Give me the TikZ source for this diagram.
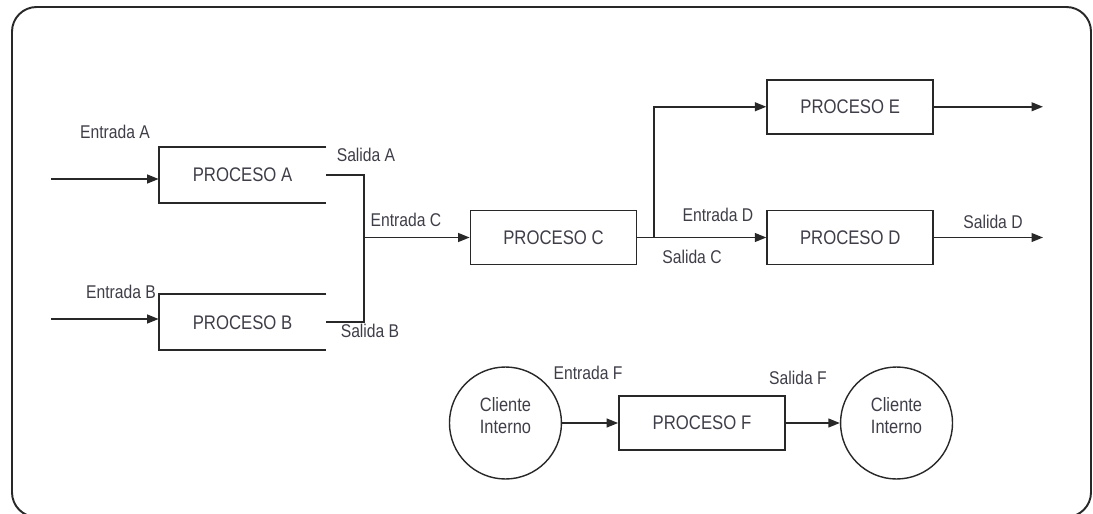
\documentclass[tikz,border=0pt]{standalone}
\usepackage{fontspec}
\setmainfont{Liberation Sans}[FakeStretch=0.85]
\usetikzlibrary{arrows.meta, positioning}
\definecolor{primary}{RGB}{40,40,40}
\definecolor{textgray}{RGB}{62,62,72}

\begin{document}
\begin{tikzpicture}[
  x=0.02cm, y=-0.02cm,
  box/.style={rectangle, draw=primary, line width=1pt, inner sep=0pt,
    minimum width=3.32cm, minimum height=1.08cm, text=textgray,
    font=\fontsize{11.2}{13}\selectfont},
  openbox/.style={box, draw=none},
  client/.style={circle, draw=primary, line width=0.8pt, inner sep=0pt,
    minimum size=2.24cm,
    label={[align=center, text=textgray, yshift=4pt, inner sep=0pt,
      font=\fontsize{11}{12.6}\selectfont]center:#1}},
  lbl/.style={inner sep=0pt, text=textgray, font=\fontsize{10.5}{12}\selectfont},
  arrow/.style={-{Triangle[length=6.5pt,width=5pt]}, line width=0.9pt, primary},
  link/.style={line width=0.9pt, primary}
]
\useasboundingbox (0,0) rectangle (1093,514);
\draw[primary, line width=1.1pt, rounded corners=14pt] (12,7) rectangle (1091,517);

% processes
\node[openbox] (pa) at (242.5,175) {PROCESO A};
\node[openbox, below=1.83cm of pa] (pb) {PROCESO B};
\node[box] (pc) at (553.5,237.5) {PROCESO C};
\node[box, right=2.58cm of pc] (pd) {PROCESO D};
\node[box, above=1.5cm of pd] (pe) {PROCESO E};
\node[box] (pf) at (702,423) {PROCESO F};
\node[client={Cliente\\Interno}, left=1.12cm of pf] (cl1) {};
\node[client={Cliente\\Interno}, right=1.08cm of pf] (cl2) {};

\draw[link, line width=1pt] (pa.north east) -- (pa.north west) -- (pa.south west) -- (pa.south east);
\draw[link, line width=1pt] (pb.north east) -- (pb.north west) -- (pb.south west) -- (pb.south east);

% free ends
\coordinate (ina) at (51,179);
\coordinate (inb) at (51,319);
\coordinate (joint) at (364,237.5);
\coordinate (split) at (654,237.5);
\coordinate (oute) at (1043,0);
\coordinate (outd) at (1043,0);

\draw[arrow] (ina) -- (ina -| pa.west);
\draw[arrow] (inb) -- (inb -| pb.west);
\draw[link] (pa.east) -| (joint);
\draw[link] (pb.east) -| (joint);
\draw[arrow] (joint) -- (pc.west);
\draw[arrow] (pc.east) -- (pd.west);
\draw[arrow] (split) |- (pe.west);
\draw[arrow] (pe.east) -- (pe.east -| oute);
\draw[arrow] (pd.east) -- (pd.east -| outd);
\draw[arrow] (cl1.east) -- (cl1.east -| pf.west);
\draw[arrow] (pf.east) -- (cl2.west);

% labels
\node[lbl] (lea) at (115,132) {Entrada A};
\node[lbl] (leb) at (121,292) {Entrada B};
\node[lbl] (lsa) at (366,155) {Salida A};
\node[lbl] (lsb) at (370,331) {Salida B};
\node[lbl] (lec) at (406,220) {Entrada C};
\node[lbl] (led) at (718,215) {Entrada D};
\node[lbl] (lsc) at (692,257) {Salida C};
\node[lbl] (lsd) at (993,222) {Salida D};
\node[lbl] (lef) at (588,373) {Entrada F};
\node[lbl] (lsf) at (798,378) {Salida F};
\end{tikzpicture}
\end{document}
